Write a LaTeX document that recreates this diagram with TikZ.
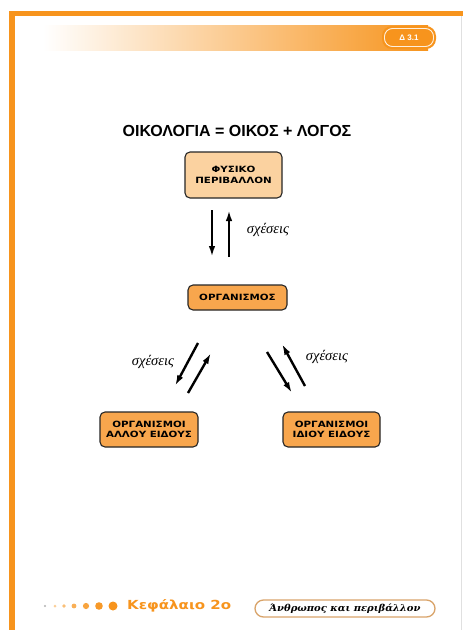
\documentclass[tikz,border=0pt]{standalone}
\usepackage{fontspec}
\setmainfont{Liberation Sans}
\newfontfamily\boxfont{DejaVu Sans}[FakeStretch=1.2]
\newfontfamily\relfont{Liberation Serif}
\newfontfamily\footfont{DejaVu Sans}[FakeStretch=1.2]
\newfontfamily\pillfont{DejaVu Serif}[FakeStretch=1.05]
\usetikzlibrary{arrows.meta}
\definecolor{frameorange}{HTML}{F7941D}
\definecolor{paleorange}{HTML}{FBD2A0}
\definecolor{boxorange}{HTML}{F8A64D}
\definecolor{pilledge}{HTML}{D9A46A}

\tikzset{
  concept/.style={draw=black!85, line width=1.1pt, rounded corners=5pt,
    align=center, inner sep=0pt,
    font=\boxfont\bfseries\fontsize{8.6}{10.5}\selectfont},
  relarrow/.style={line width=2.4pt, -{Latex[length=11pt,width=6.5pt]}},
  rellabel/.style={font=\relfont\itshape\fontsize{14.5}{14.5}\selectfont},
  footdot/.style={circle, inner sep=0pt, draw=none}
}

\begin{document}
\begin{tikzpicture}[x=1pt, y=-1pt]
  \useasboundingbox (0,0) rectangle (463,630);
  \fill[white] (0,0) rectangle (463,630);

  % page frame
  \fill[frameorange] (9,11) rectangle (463,16);
  \fill[frameorange] (9,11) rectangle (15,630);
  \draw[black!12, line width=0.6pt] (461,16) -- (461,630);

  % header band with section badge
  \shade[left color=white, middle color=frameorange!45, right color=frameorange]
    (43,25) rectangle (428,50);
  \fill[frameorange, rounded corners=10pt] (382,26) rectangle (436,49);
  \draw[white!85!frameorange, line width=0.9pt, rounded corners=8pt]
    (384.5,28.5) rectangle (433.5,46.5);
  \node[text=white, font=\bfseries\fontsize{8}{8}\selectfont] (badge) at (409,37.5) {Δ 3.1};

  % title
  \node[font=\bfseries\fontsize{16}{16}\selectfont] (title) at (237,131)
    {ΟΙΚΟΛΟΓΙΑ = ΟΙΚΟΣ + ΛΟΓΟΣ};

  % concept boxes
  \node[concept, fill=paleorange, minimum width=97pt, minimum height=46pt]
    (nature) at (233.5,175) {ΦΥΣΙΚΟ\\ΠΕΡΙΒΑΛΛΟΝ};
  \node[concept, fill=boxorange, minimum width=99pt, minimum height=25pt]
    (organism) at (237.5,297.5) {ΟΡΓΑΝΙΣΜΟΣ};
  \node[concept, fill=boxorange, minimum width=98pt, minimum height=35pt]
    (other) at (149,429.5) {ΟΡΓΑΝΙΣΜΟΙ\\ΑΛΛΟΥ ΕΙΔΟΥΣ};
  \node[concept, fill=boxorange, minimum width=97pt, minimum height=35pt]
    (same) at (331.5,429.5) {ΟΡΓΑΝΙΣΜΟΙ\\ΙΔΙΟΥ ΕΙΔΟΥΣ};

  % arrow end points
  \coordinate (vdA) at (212,210);  \coordinate (vdB) at (212,257);
  \coordinate (vuA) at (229,257);  \coordinate (vuB) at (229,210);
  \coordinate (ldA) at (198,343);  \coordinate (ldB) at (175,386);
  \coordinate (luA) at (188,393);  \coordinate (luB) at (211,353);
  \coordinate (rdA) at (267,352);  \coordinate (rdB) at (292,393);
  \coordinate (ruA) at (305,386);  \coordinate (ruB) at (282,344);

  % relation arrows
  \draw[relarrow] (vdA) -- (vdB);
  \draw[relarrow] (vuA) -- (vuB);
  \draw[relarrow] (ldA) -- (ldB);
  \draw[relarrow] (luA) -- (luB);
  \draw[relarrow] (rdA) -- (rdB);
  \draw[relarrow] (ruA) -- (ruB);

  \node[rellabel] (relv) at (268,230) {σχέσεις};
  \node[rellabel] (rell) at (153,362) {σχέσεις};
  \node[rellabel] (relr) at (327,357) {σχέσεις};

  % footer
  \node[footdot, fill=black!30, minimum size=2.4pt] (d1) at (45,606) {};
  \node[footdot, fill=frameorange!45, minimum size=3pt] (d2) at (55,606) {};
  \node[footdot, fill=frameorange!60, minimum size=3.8pt] (d3) at (64,606) {};
  \node[footdot, fill=frameorange!75, minimum size=4.8pt] (d4) at (74,606) {};
  \node[footdot, fill=frameorange!85, minimum size=6.2pt] (d5) at (86,606) {};
  \node[footdot, fill=frameorange!95, minimum size=7.6pt] (d6) at (99,606) {};
  \node[footdot, fill=frameorange, minimum size=9pt] (d7) at (113,606) {};
  \node[anchor=west, text=frameorange, inner sep=0pt,
    font=\footfont\bfseries\fontsize{12.5}{13}\selectfont] (chapter) at (127,606)
    {Κεφάλαιο 2ο};
  \node[draw=pilledge, fill=white, line width=1.3pt, rounded corners=8.5pt,
    minimum width=180pt, minimum height=17pt, inner sep=0pt,
    font=\pillfont\bfseries\itshape\fontsize{9.5}{10}\selectfont] (unit) at (345,608.5)
    {Άνθρωπος και περιβάλλον};
\end{tikzpicture}
\end{document}
